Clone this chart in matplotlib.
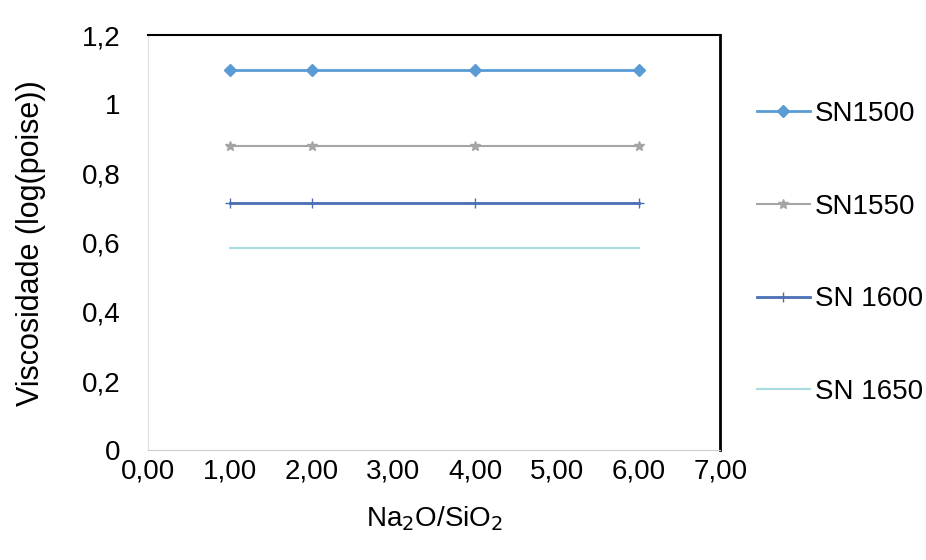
import matplotlib.pyplot as plt
from matplotlib.ticker import FuncFormatter

razao = [1, 2, 4, 6]
sn1500 = [1.10, 1.10, 1.10, 1.10]
sn1550 = [0.88, 0.88, 0.88, 0.88]
sn1600 = [0.715, 0.715, 0.715, 0.715]
sn1650 = [0.585, 0.585, 0.585, 0.585]

plt.rcParams['font.family'] = ['Liberation Sans', 'DejaVu Sans']

fig = plt.figure(figsize=(9.26, 5.6), dpi=100)
ax = fig.add_axes([0.16, 0.196, 0.618, 0.741])

ax.plot(razao, sn1500, color='#5b9bd5', marker='D', markersize=6, linewidth=2, label='SN1500')
ax.plot(razao, sn1550, color='#a5a5a5', marker='*', markersize=7, linewidth=1.5, label='SN1550')
ax.plot(razao, sn1600, color='#4a6fb5', marker='+', markersize=7, linewidth=2, label='SN 1600')
ax.plot(razao, sn1650, color='#a8dde0', linewidth=1.5, label='SN 1650')

ax.set_xlim(0, 7)
ax.set_ylim(0, 1.2)
ax.set_xticks(range(8))
ax.set_yticks([0, 0.2, 0.4, 0.6, 0.8, 1.0, 1.2])
ax.xaxis.set_major_formatter(FuncFormatter(lambda v, p: ('%.2f' % v).replace('.', ',')))
ax.yaxis.set_major_formatter(FuncFormatter(lambda v, p: ('%g' % round(v, 1)).replace('.', ',')))
ax.tick_params(labelsize=20, length=0)
ax.tick_params(axis='y', pad=20)
ax.tick_params(axis='x', pad=6)

ax.spines['top'].set_color('black')
ax.spines['top'].set_linewidth(1.5)
ax.spines['right'].set_color('black')
ax.spines['right'].set_linewidth(2)
ax.spines['left'].set_color('#dddddd')
ax.spines['bottom'].set_color('#cccccc')

ax.set_xlabel('Na$_2$O/SiO$_2$', fontsize=20, labelpad=14)
ax.set_ylabel('Viscosidade (log(poise))', fontsize=22, labelpad=26)

ax.legend(loc='center left', bbox_to_anchor=(1.02, 0.475), frameon=False, fontsize=20,
          labelspacing=2.4, handlelength=1.9, handletextpad=0.2)

plt.savefig('out.png', dpi=100)
